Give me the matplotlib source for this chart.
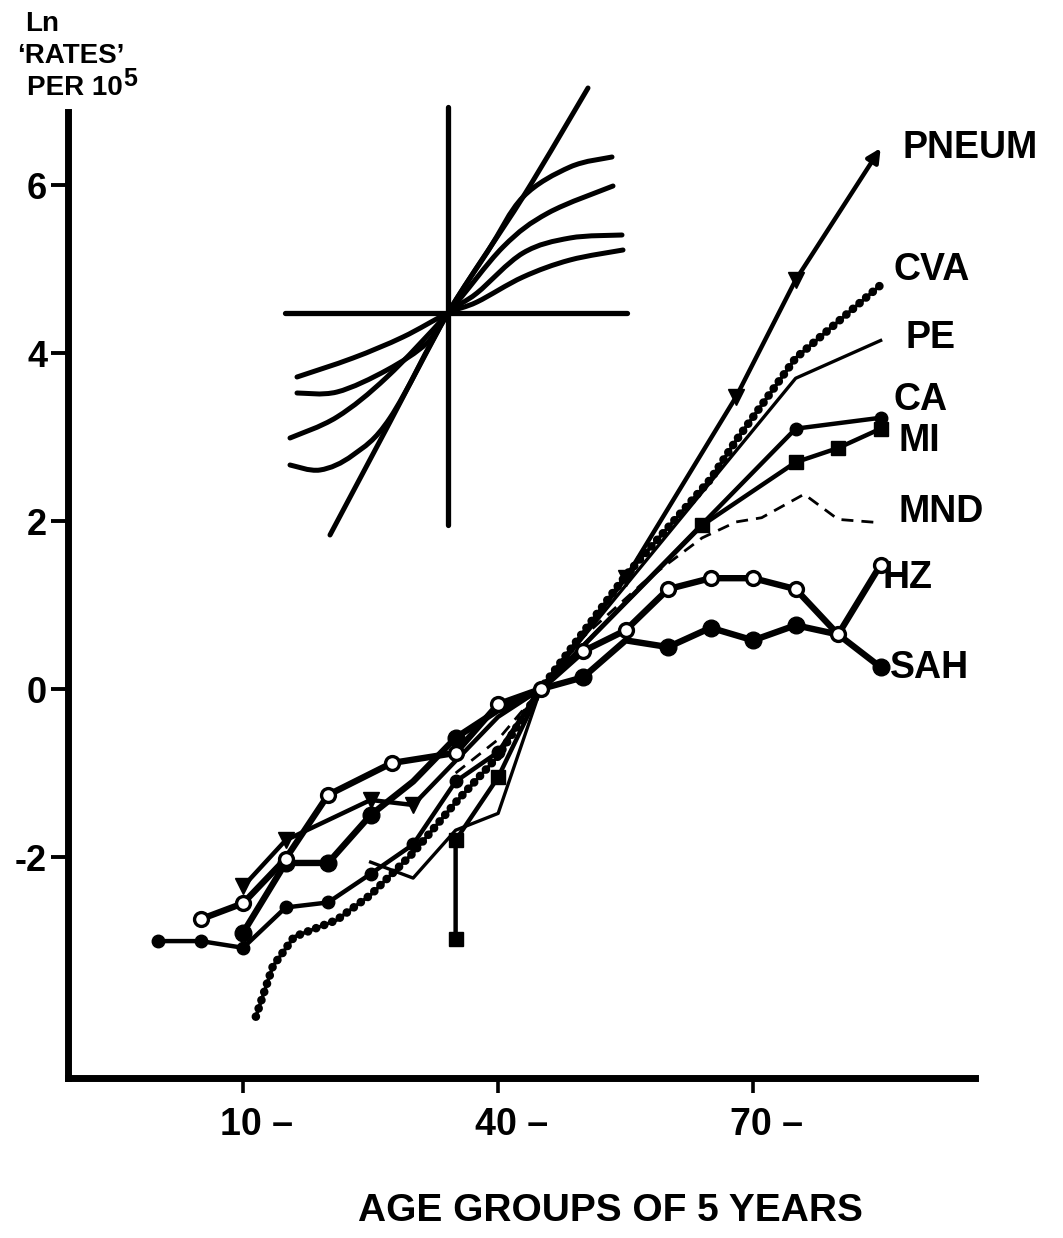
import numpy as np
import matplotlib
matplotlib.use("Agg")
import matplotlib.pyplot as plt
from matplotlib.path import Path
from matplotlib.patches import PathPatch
from matplotlib.transforms import ScaledTranslation

W, H = 1063, 1238
FONT = ["Liberation Sans", "DejaVu Sans"]

# ---- data: age group (years) vs Ln rate per 10^5 (scaled to 0 at 45) ----
pneum_age = [10, 15, 25, 30, 40, 45, 55, 68, 75, 85]
pneum_val = [-2.35, -1.80, -1.32, -1.38, -0.33, 0.0, 1.32, 3.48, 4.87, 6.44]

cva_age = [11.5, 13.5, 16, 21, 25, 30, 35, 40, 45, 55, 65, 68, 75, 85]
cva_val = [-3.9, -3.3, -2.95, -2.75, -2.45, -1.95, -1.35, -0.8, 0.0, 1.35, 2.5, 2.96, 3.94, 4.81]

pe_age = [25, 30, 35, 40, 45, 75, 85]
pe_val = [-2.06, -2.25, -1.68, -1.48, 0.0, 3.70, 4.15]

ca_age = [0, 5, 10, 15, 20, 25, 30, 35, 40, 45, 75, 85]
ca_val = [-3.0, -3.0, -3.08, -2.6, -2.54, -2.2, -1.85, -1.1, -0.75, 0.0, 3.10, 3.23]

mi_age = [35, 35, 40, 45, 64, 75, 80, 85]
mi_val = [-2.98, -1.80, -1.05, 0.0, 1.95, 2.70, 2.87, 3.10]

mnd_age = [35, 40, 45, 50, 57, 59, 64, 68, 71, 76, 80, 85]
mnd_val = [-1.0, -0.6, 0.0, 0.62, 1.26, 1.42, 1.80, 1.99, 2.04, 2.32, 2.02, 1.98]

hz_age = [5, 10, 15, 20, 27.5, 35, 40, 45, 50, 55, 60, 65, 70, 75, 80, 85]
hz_val = [-2.74, -2.55, -2.02, -1.26, -0.88, -0.76, -0.18, 0.0, 0.45, 0.70, 1.19, 1.32, 1.32, 1.19, 0.65, 1.48]

sah_age = [10, 15, 20, 25, 30, 35, 40, 45, 50, 55, 60, 65, 70, 75, 80, 85]
sah_val = [-2.9, -2.07, -2.07, -1.5, -1.1, -0.58, -0.25, 0.0, 0.14, 0.58, 0.50, 0.73, 0.58, 0.76, 0.65, 0.26]

labels = ["PNEUM", "CVA", "PE", "CA", "MI", "MND", "HZ", "SAH"]
label_offsets = [(22, 0), (13, 15), (25, 2), (13, 18), (18, -12), (18, 11), (2, -13), (9, -1)]

x_ticks = [10, 40, 70]
x_ticklabels = ["10 \u2013", "40 \u2013", "70 \u2013"]
y_ticks = [-2, 0, 2, 4, 6]
y_ticklabels = ["-2", "0", "2", "4", "6"]

# ---- inset schematic (family of curves crossing at a point) ----
ins_h = ([-1.63, 1.79], [0, 0])
ins_v = ([0, 0], [2.06, -2.12])
ins_s = ([-1.18, -0.58, 0, 0.75, 1.40], [-2.22, -1.09, 0, 1.16, 2.25])
ins_c1 = ([-1.58, -1.28, -0.95, -0.58, 0, 0.40, 0.75, 1.22, 1.64],
          [-1.52, -1.57, -1.42, -1.05, 0, 0.62, 1.16, 1.46, 1.56])
ins_c2 = ([-1.58, -1.11, -0.61, 0, 0.55, 1.0, 1.65],
          [-1.25, -1.04, -0.64, 0, 0.66, 1.0, 1.27])
ins_c3 = ([-1.51, -1.11, -0.61, -0.21, 0, 0.29, 0.75, 1.22, 1.74],
          [-0.80, -0.79, -0.57, -0.30, 0, 0.20, 0.60, 0.75, 0.78])
ins_c4 = ([-1.51, -0.95, -0.45, 0, 0.29, 0.75, 1.22, 1.75],
          [-0.64, -0.45, -0.24, 0, 0.11, 0.36, 0.53, 0.63])


def smooth_path(u, v):
    # catmull-rom through the points, drawn as cubic bezier segments
    p = np.column_stack([u, v]).astype(float)
    p = np.vstack([p[0], p, p[-1]])
    verts, codes = [p[1]], [Path.MOVETO]
    for i in range(1, len(p) - 2):
        c1 = p[i] + (p[i + 1] - p[i - 1]) / 6
        c2 = p[i + 1] - (p[i + 2] - p[i]) / 6
        verts += [c1, c2, p[i + 1]]
        codes += [Path.CURVE4] * 3
    return Path(verts, codes)


fig = plt.figure(figsize=(W / 100, H / 100), dpi=100)
ax = fig.add_axes([68 / W, 1 - 1078 / H, (975 - 68) / W, (1078 - 112) / H])
ax.set_xlim(-10.6, 96.1)
ax.set_ylim(-4.63, 6.87)

for s in ("top", "right"):
    ax.spines[s].set_visible(False)
for s in ("left", "bottom"):
    ax.spines[s].set_linewidth(5)

ax.set_xticks(x_ticks)
ax.set_xticklabels(x_ticklabels, fontsize=27, fontweight="bold", family=FONT)
ax.set_yticks(y_ticks)
ax.set_yticklabels(y_ticklabels, fontsize=26, fontweight="bold", family=FONT)
ax.tick_params(axis="x", length=11, width=2.6, pad=10)
ax.tick_params(axis="y", length=12, width=2.8, pad=3)
shift = ScaledTranslation(13 / 100, 0, fig.dpi_scale_trans)
for t in ax.get_xticklabels():
    t.set_transform(t.get_transform() + shift)

k = "black"
# PE: plain thin line
ax.plot(pe_age, pe_val, color=k, lw=2.4, zorder=3)
# MND: dashed
ax.plot(mnd_age, mnd_val, color=k, lw=2.0, ls=(0, (4.3, 2.9)), zorder=3)
# CVA: beaded line
ax.plot(cva_age, cva_val, color=k, lw=2.6, zorder=3)
ax.plot(cva_age, cva_val, color=k, lw=6.2, ls=(0, (0.01, 1.0)),
        dash_capstyle="round", zorder=3)
# PNEUM: triangles, arrow at the end
ax.plot(pneum_age[:-1], pneum_val[:-1], color=k, lw=3.2, marker="v", ms=12,
        markevery=[0, 1, 2, 3, 6, 7, 8], zorder=4)
ax.annotate("", xy=(pneum_age[-1], pneum_val[-1]),
            xytext=(pneum_age[-2], pneum_val[-2]),
            arrowprops=dict(arrowstyle="-|>", color=k, lw=3.2,
                            mutation_scale=20, shrinkA=0, shrinkB=0), zorder=4)
# CA: filled circles
ax.plot(ca_age, ca_val, color=k, lw=3.2, marker="o", ms=9,
        markevery=[0, 1, 2, 3, 4, 5, 6, 7, 8, 10, 11], zorder=4)
# MI: filled squares
ax.plot(mi_age, mi_val, color=k, lw=3.2, marker="s", ms=10,
        markevery=[0, 1, 2, 4, 5, 6, 7], zorder=4)
# SAH: thick line, large filled circles
ax.plot(sah_age, sah_val, color=k, lw=4.6, marker="o", ms=12,
        markevery=[0, 1, 2, 3, 5, 8, 10, 11, 12, 13, 15], zorder=5)
# HZ: thick line, open circles
ax.plot(hz_age, hz_val, color=k, lw=4.6, marker="o", ms=10, mfc="white",
        mec=k, mew=2.4, zorder=6)

ends = [(pneum_age, pneum_val), (cva_age, cva_val), (pe_age, pe_val),
        (ca_age, ca_val), (mi_age, mi_val), (mnd_age, mnd_val),
        (hz_age, hz_val), (sah_age, sah_val)]
for name, (xa, ya), off in zip(labels, ends, label_offsets):
    ax.annotate(name, xy=(xa[-1], ya[-1]), xytext=off, textcoords="offset pixels",
                ha="left", va="center", fontsize=27, fontweight="bold",
                family=FONT, annotation_clip=False)

# inset
axi = fig.add_axes([268 / W, 1 - 543 / H, 370 / W, 460 / H])
axi.set_xlim(-1.8, 1.9)
axi.set_ylim(-2.3, 2.3)
axi.axis("off")
axi.patch.set_alpha(0)
for u, v in (ins_h, ins_v):
    axi.plot(u, v, color=k, lw=3.8, solid_capstyle="round")
for u, v in (ins_s, ins_c1, ins_c2, ins_c3, ins_c4):
    axi.add_patch(PathPatch(smooth_path(u, v), fill=False, lw=3.6,
                            edgecolor=k, capstyle="round"))

# axis titles
fig.text(25 / W, 1 - 24 / H, "Ln", fontsize=20, fontweight="bold", family=FONT,
         ha="left", va="center")
fig.text(17 / W, 1 - 56 / H, "\u2018RATES\u2019", fontsize=20, fontweight="bold",
         family=FONT, ha="left", va="center")
per = fig.text(27 / W, 1 - 88 / H, "PER 10", fontsize=20, fontweight="bold",
               family=FONT, ha="left", va="center")
fig.canvas.draw()
bb = per.get_window_extent()
fig.text(bb.x1 / W + 1 / W, 1 - 79 / H, "5", fontsize=18, fontweight="bold",
         family=FONT, ha="left", va="center")
fig.text(610 / W, 1 - 1211 / H, "AGE GROUPS OF 5 YEARS", fontsize=28,
         fontweight="bold", family=FONT, ha="center", va="center")

fig.savefig("out.png", dpi=100)
